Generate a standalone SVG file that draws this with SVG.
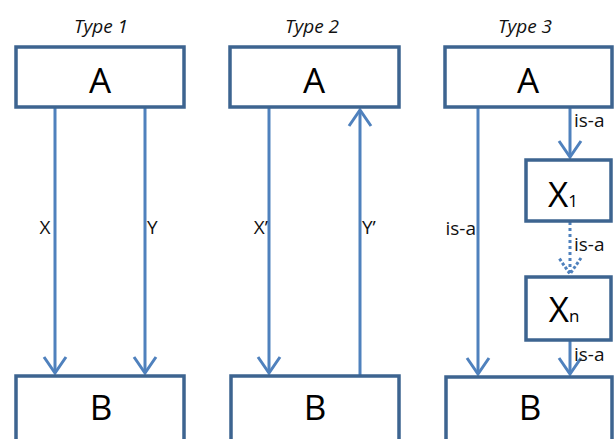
<svg xmlns="http://www.w3.org/2000/svg" width="614" height="439" viewBox="0 0 614 439">
<style>
.box{fill:#fff;stroke:#3d6490;stroke-width:3.5}
.big{font-family:"Open Sans","Liberation Sans",sans-serif;font-size:35px;fill:#000;text-anchor:middle}
.ttl{font-family:"Open Sans","Liberation Sans",sans-serif;font-size:19px;font-style:italic;fill:#111;text-anchor:middle}
.lbl{font-family:"Open Sans","Liberation Sans",sans-serif;font-size:19px;fill:#111}
.ln{stroke:#4f81bd;stroke-width:3;fill:none}
.dot{stroke:#4f81bd;stroke-width:3;fill:none;stroke-dasharray:3 3}
</style>
<defs>
<marker id="ah" viewBox="0 0 20 26" refX="18" refY="13" markerWidth="20" markerHeight="26" markerUnits="userSpaceOnUse" orient="auto">
<path d="M2 2 L18 13 L2 24" fill="none" stroke="#4f81bd" stroke-width="3"/>
</marker>
<marker id="ahd" viewBox="0 0 20 26" refX="18" refY="13" markerWidth="20" markerHeight="26" markerUnits="userSpaceOnUse" orient="auto">
<path d="M2 2 L18 13 L2 24" fill="none" stroke="#4f81bd" stroke-width="3" stroke-dasharray="3 2"/>
</marker>
</defs>
<rect width="614" height="439" fill="#fff"/>
<g id="titles">
<text class="ttl" x="101" y="33">Type 1</text>
<text class="ttl" x="312" y="33">Type 2</text>
<text class="ttl" x="525" y="33">Type 3</text>
</g>
<g id="connectors">
<path class="ln" d="M55 107 V373" marker-end="url(#ah)"/>
<path class="ln" d="M145 107 V373" marker-end="url(#ah)"/>
<path class="ln" d="M269 108 V373" marker-end="url(#ah)"/>
<path class="ln" d="M360 376 V110" marker-end="url(#ah)"/>
<path class="ln" d="M478 107 V374" marker-end="url(#ah)"/>
<path class="ln" d="M570 107 V157" marker-end="url(#ah)"/>
<path class="dot" d="M570 222 V274" marker-end="url(#ahd)"/>
<path class="ln" d="M570 340 V374" marker-end="url(#ah)"/>
<text class="lbl" x="45" y="234" text-anchor="middle">X</text>
<text class="lbl" x="147" y="234">Y</text>
<text class="lbl" x="268" y="234" text-anchor="end">X’</text>
<text class="lbl" x="362" y="234">Y’</text>
<text class="lbl" x="476" y="235" text-anchor="end">is-a</text>
<text class="lbl" x="574" y="127">is-a</text>
<text class="lbl" x="574" y="251">is-a</text>
<text class="lbl" x="574" y="361">is-a</text>
</g>
<g id="A1"><rect class="box" x="16" y="47" width="168" height="60"/><text class="big" x="100" y="93">A</text></g>
<g id="A2"><rect class="box" x="230" y="47" width="169" height="60"/><text class="big" x="314" y="93">A</text></g>
<g id="A3"><rect class="box" x="445" y="47" width="167" height="60"/><text class="big" x="528" y="93">A</text></g>
<g id="X1"><rect class="box" x="526" y="160" width="85" height="61"/><text class="big" x="563" y="207">X<tspan font-size="17">1</tspan></text></g>
<g id="Xn"><rect class="box" x="526" y="277" width="85" height="63"/><text class="big" x="564" y="322">X<tspan font-size="17">n</tspan></text></g>
<g id="B1"><rect class="box" x="16" y="376" width="168" height="70"/><text class="big" x="101" y="420">B</text></g>
<g id="B2"><rect class="box" x="231" y="376" width="168" height="70"/><text class="big" x="315" y="420">B</text></g>
<g id="B3"><rect class="box" x="446" y="377" width="166" height="70"/><text class="big" x="530" y="420">B</text></g>
</svg>
